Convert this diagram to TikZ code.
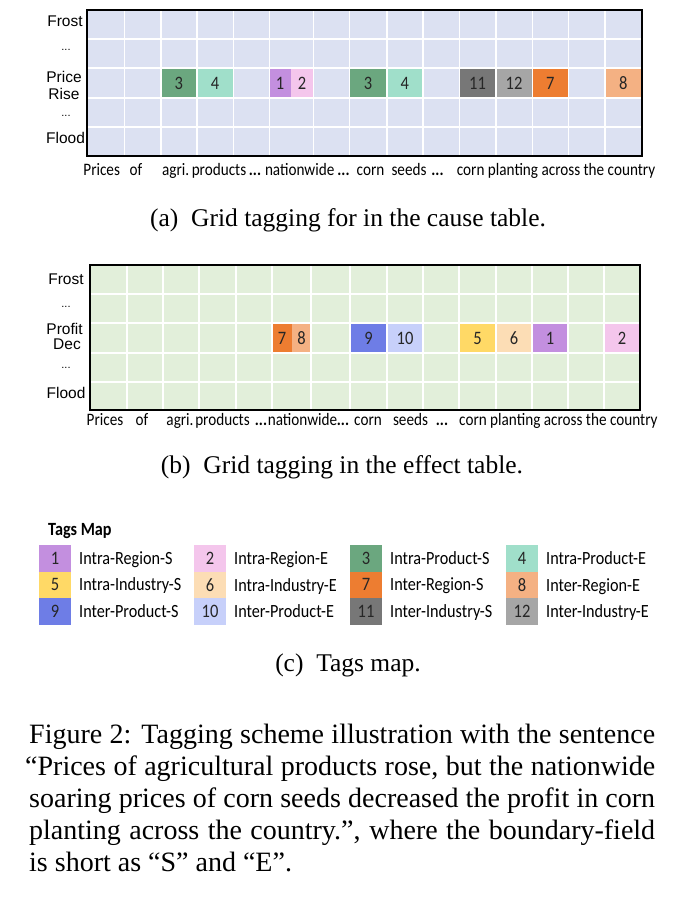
\documentclass[tikz,border=0pt]{standalone}
\usepackage{graphicx}
\usepackage{fontspec}
\setmainfont{Liberation Serif}
\newfontfamily\calfont{Carlito}
\newfontfamily\arialfont{Liberation Sans}
\definecolor{bgA}{HTML}{DCE1F2}
\definecolor{bgB}{HTML}{E2EFDA}
\definecolor{t1}{HTML}{C38FDF}
\definecolor{t2}{HTML}{F4C6EC}
\definecolor{t3}{HTML}{6BA77F}
\definecolor{t4}{HTML}{A0DFCA}
\definecolor{t5}{HTML}{FFD966}
\definecolor{t6}{HTML}{FCDDB5}
\definecolor{t7}{HTML}{ED7D31}
\definecolor{t8}{HTML}{F4B183}
\definecolor{t9}{HTML}{6E7DE6}
\definecolor{t10}{HTML}{C7D0FA}
\definecolor{t11}{HTML}{777777}
\definecolor{t12}{HTML}{A6A6A6}
\newcommand\vs[1]{\scalebox{1}[1.15]{#1}}
\newcommand\tagcell[7]{\node[tagbox, fill=#6, minimum width={#4-#2}, minimum height={#5-#3}] (#1) at ({(#2+#4)/2},{(#3+#5)/2}) {\vs{#7}};}
\newcommand\legitem[6]{%
  \node[tagbox, fill=#4, minimum width=32, minimum height=26.5, anchor=north west, font=\calfont\fontsize{16.5}{17}\selectfont] (#1) at (#2,#3) {\vs{#5}};
  \node[legtext] (#1t) at ([xshift=8pt]#1.base east) {\vs{#6}};}
\begin{document}
\begin{tikzpicture}[x=1pt,y=-1pt,
  gridline/.style={white, line width=1.6pt},
  border/.style={black, line width=2.4pt},
  tagbox/.style={draw=none, inner sep=0pt, outer sep=0pt, text=black!85, font=\calfont\fontsize{16.5}{17}\selectfont},
  rowlab/.style={font=\arialfont\fontsize{15.5}{16}\selectfont, anchor=base, inner sep=0pt},
  dotlab/.style={font=\arialfont\fontsize{11}{12}\selectfont, anchor=base, inner sep=0pt},
  wordlab/.style={font=\calfont\fontsize{15.2}{16}\selectfont, anchor=base, inner sep=0pt},
  legtext/.style={font=\calfont\fontsize{16.2}{17}\selectfont, anchor=base west, inner sep=0pt},
  subcap/.style={font=\fontsize{25.5}{30}\selectfont, anchor=base, inner sep=0pt},
  capline/.style={font=\fontsize{28}{32}\selectfont, anchor=base west, inner sep=0pt}]
\useasboundingbox (0,0) rectangle (695,898);
\fill[white] (0,0) rectangle (695,898);
% ---------- (a) cause table ----------
\fill[bgA] (87,10) rectangle (641.7,156);
\tagcell{a3a}{160.7}{68}{196.7}{98}{t3}{3}
\tagcell{a4a}{196.7}{68}{233.3}{98}{t4}{4}
\tagcell{a1}{269.3}{68}{291}{98}{t1}{1}
\tagcell{a2}{291}{68}{313.3}{98}{t2}{2}
\tagcell{a3b}{349.3}{68}{386.7}{98}{t3}{3}
\tagcell{a4b}{386.7}{68}{422.7}{98}{t4}{4}
\tagcell{a11}{459.3}{68}{495.7}{98}{t11}{11}
\tagcell{a12}{495.7}{68}{532.3}{98}{t12}{12}
\tagcell{a7}{532.3}{68}{568.3}{98}{t7}{7}
\tagcell{a8}{605}{68}{641.7}{98}{t8}{8}
\foreach \x in {124.3,160.7,196.7,233.3,269.3,313.3,349.3,386.7,422.7,459.3,495.7,532.3,568.3,605}
  \draw[gridline] (\x,10) -- (\x,156);
\foreach \y in {39,68,98,127}
  \draw[gridline] (87,\y) -- (641.7,\y);
\draw[border] (87,10) rectangle (641.7,156);
\node[rowlab] (ra1) at (65,26) {Frost};
\node[dotlab] (ra2) at (66,50) {...};
\node[rowlab] (ra3) at (64,82) {Price};
\node[rowlab] (ra4) at (64,99) {Rise};
\node[dotlab] (ra5) at (66,116) {...};
\node[rowlab] (ra6) at (65.5,143) {Flood};
\node[wordlab] (wa1) at (101.7,175) {\vs{Prices}};
\node[wordlab] (wa2) at (136,175) {\vs{of}};
\node[wordlab] (wa3) at (175.7,175) {\vs{agri.}};
\node[wordlab] (wa4) at (219,175) {\vs{products}};
\node[wordlab] (wa5) at (255,175) {\vs{\bfseries ...}};
\node[wordlab] (wa6) at (299.7,175) {\vs{nationwide}};
\node[wordlab] (wa7) at (343.5,175) {\vs{\bfseries ...}};
\node[wordlab] (wa8) at (370.5,175) {\vs{corn}};
\node[wordlab] (wa9) at (409,175) {\vs{seeds}};
\node[wordlab] (wa10) at (437.5,175) {\vs{\bfseries ...}};
\node[wordlab, anchor=base west] (wa11) at (456.7,175) {\vs{corn planting across the country}};
\node[subcap] (capa) at (348,226) {(a)\enskip Grid tagging for in the cause table.};
% ---------- (b) effect table ----------
\fill[bgB] (90,265) rectangle (640,410);
\tagcell{b7}{272}{323}{292}{353}{t7}{7}
\tagcell{b8}{292}{323}{311}{353}{t8}{8}
\tagcell{b9}{350}{323}{387}{353}{t9}{9}
\tagcell{b10}{387}{323}{423}{353}{t10}{10}
\tagcell{b5}{459}{323}{496}{353}{t5}{5}
\tagcell{b6}{496}{323}{532}{353}{t6}{6}
\tagcell{b1}{532}{323}{568}{353}{t1}{1}
\tagcell{b2}{604}{323}{640}{353}{t2}{2}
\foreach \x in {127,163,199,236,272,311,350,387,423,459,496,532,568,604}
  \draw[gridline] (\x,265) -- (\x,410);
\foreach \y in {294,323,353,382}
  \draw[gridline] (90,\y) -- (640,\y);
\draw[border] (90,265) rectangle (640,410);
\node[rowlab] (rb1) at (66,284) {Frost};
\node[dotlab] (rb2) at (66,307) {...};
\node[rowlab] (rb3) at (64.5,334) {Profit};
\node[rowlab] (rb4) at (67,349) {Dec};
\node[dotlab] (rb5) at (66,368) {...};
\node[rowlab] (rb6) at (66,398) {Flood};
\node[wordlab] (wb1) at (105,425) {\vs{Prices}};
\node[wordlab] (wb2) at (142,425) {\vs{of}};
\node[wordlab] (wb3) at (180,425) {\vs{agri.}};
\node[wordlab] (wb4) at (222.5,425) {\vs{products}};
\node[wordlab] (wb5) at (261,425) {\vs{\bfseries ...}};
\node[wordlab] (wb6) at (302.5,425) {\vs{nationwide}};
\node[wordlab] (wb7) at (343,425) {\vs{\bfseries ...}};
\node[wordlab] (wb8) at (368,425) {\vs{corn}};
\node[wordlab] (wb9) at (410.5,425) {\vs{seeds}};
\node[wordlab] (wb10) at (442,425) {\vs{\bfseries ...}};
\node[wordlab, anchor=base west] (wb11) at (459,425) {\vs{corn planting across the country}};
\node[subcap] (capb) at (342,473) {(b)\enskip Grid tagging in the effect table.};
% ---------- (c) tags map ----------
\node[font=\calfont\bfseries\fontsize{16.2}{17}\selectfont, anchor=base west, inner sep=0pt] (tm) at (48,535) {\vs{Tags Map}};
\legitem{l1}{39}{545}{t1}{1}{Intra-Region-S}
\legitem{l2}{194}{545}{t2}{2}{Intra-Region-E}
\legitem{l3}{350}{545}{t3}{3}{Intra-Product-S}
\legitem{l4}{506}{545}{t4}{4}{Intra-Product-E}
\legitem{l5}{39}{571.5}{t5}{5}{Intra-Industry-S}
\legitem{l6}{194}{571.5}{t6}{6}{Intra-Industry-E}
\legitem{l7}{350}{571.5}{t7}{7}{Inter-Region-S}
\legitem{l8}{506}{571.5}{t8}{8}{Inter-Region-E}
\legitem{l9}{39}{598}{t9}{9}{Inter-Product-S}
\legitem{l10}{194}{598}{t10}{10}{Inter-Product-E}
\legitem{l11}{350}{598}{t11}{11}{Inter-Industry-S}
\legitem{l12}{506}{598}{t12}{12}{Inter-Industry-E}
\node[subcap] (capc) at (348,671) {(c)\enskip Tags map.};
% ---------- figure caption ----------
\node[capline] (c1) at (29,743) {\makebox[626pt][s]{Figure 2: Tagging scheme illustration with the sentence}};
\node[capline] (c2) at (25,775) {\makebox[630pt][s]{“Prices of agricultural products rose, but the nationwide}};
\node[capline] (c3) at (29,807) {\makebox[626pt][s]{soaring prices of corn seeds decreased the profit in corn}};
\node[capline] (c4) at (29,839) {\makebox[626pt][s]{planting across the country.”, where the boundary-field}};
\node[capline] (c5) at (29,871) {is short as “S” and “E”.};
\end{tikzpicture}
\end{document}
